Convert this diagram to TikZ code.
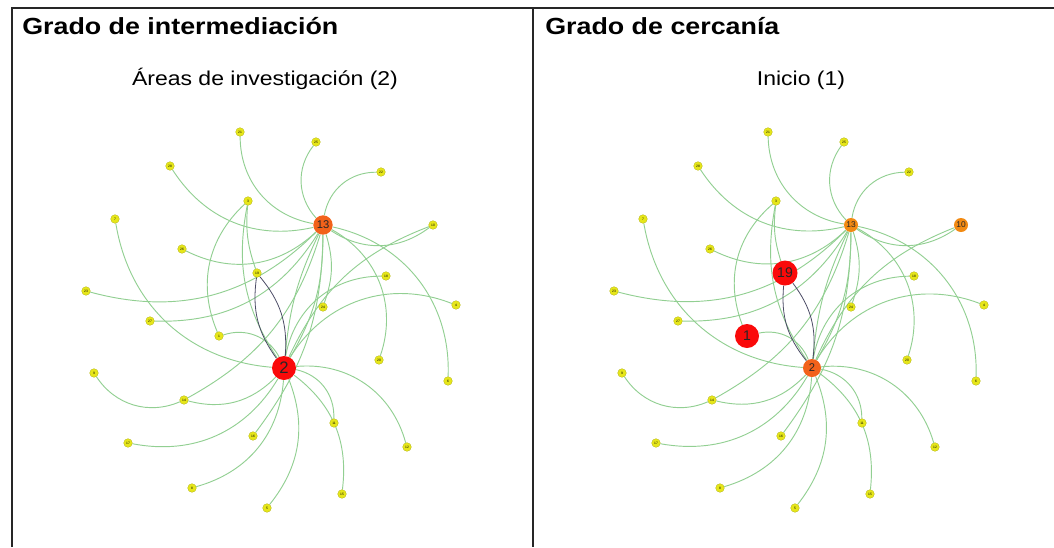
\documentclass[tikz,border=0pt]{standalone}
\usepackage{fontspec}
\setmainfont{Liberation Sans}
\usepackage{graphicx}
\pgfdeclarelayer{fondo}
\pgfsetlayers{fondo,main}
\definecolor{verde}{HTML}{92CF92}
\definecolor{gris}{HTML}{4C4C66}
\definecolor{amarillo}{HTML}{E6E619}
\definecolor{rojo}{HTML}{FA0A0A}
\definecolor{naranja}{HTML}{F28A12}
\definecolor{naranjarojo}{HTML}{F2621A}
\newcommand{\ancho}[1]{\scalebox{1.15}[1]{#1}}
\tikzset{marco/.style={line width=1.1pt, black!85},
  titulo/.style={anchor=base west, inner sep=0pt, font=\bfseries\fontsize{17.5}{20}\selectfont},
  subtitulo/.style={anchor=base, inner sep=0pt, font=\fontsize{15}{18}\selectfont},
  hoja/.style={circle, fill=amarillo, draw=amarillo!75!black, line width=0.2pt,
    inner sep=0pt, minimum size=6.5pt, font=\fontsize{2.5}{3}\selectfont},
  hub/.style={circle, inner sep=0pt, text=black!85},
  arista/.style={verde, line width=0.7pt},
  oscura/.style={gris, line width=0.6pt}}

\begin{document}
\begin{tikzpicture}[x=0.75pt,y=-0.75pt]
  % marco
  \useasboundingbox (0,0) rectangle (1054,547);
  \draw[marco] (12,547) -- (12,8) -- (1054,8);
  \draw[marco] (533,8) -- (533,547);

  % titulos
  \node[titulo] (tit1) at (22,34) {\ancho{Grado de intermediación}};
  \node[subtitulo] (sub1) at (265,85) {\ancho{Áreas de investigación (2)}};
  \node[titulo] (tit2) at (545,34) {\ancho{Grado de cercanía}};
  \node[subtitulo] (sub2) at (801,85) {\ancho{Inicio (1)}};

  % nodos principales
  \node[hub, fill=naranjarojo, minimum size=14.5pt, font=\fontsize{8.4}{9}\selectfont] (l13) at (323,225) {13};
  \node[hub, fill=rojo, minimum size=18pt, font=\fontsize{12.5}{13}\selectfont] (l2) at (284,368) {2};
  \node[hoja] (l19) at (257,273) {19};
  \node[hoja] (l1) at (219,336) {1};
  \node[hoja] (l10) at (433,225) {10};

  \node[hub, fill=naranja, minimum size=10.5pt, font=\fontsize{6.3}{7}\selectfont] (r13) at (851,225) {13};
  \node[hub, fill=naranja, minimum size=10.5pt, font=\fontsize{6.3}{7}\selectfont] (r10) at (961,225) {10};
  \node[hub, fill=naranjarojo, minimum size=13.5pt, font=\fontsize{8.4}{9}\selectfont] (r2) at (812,368) {2};
  \node[hub, fill=rojo, minimum size=18.75pt, font=\fontsize{10.5}{11}\selectfont] (r19) at (785,273) {19};
  \node[hub, fill=rojo, minimum size=18pt, font=\fontsize{10.5}{11}\selectfont] (r1) at (747,336) {1};

  % hojas
  \foreach \p/\dx in {l/0,r/528}
    \foreach \n/\x/\y in {21/240/132, 28/170/166, 3/248/201, 7/115/219, 26/182/249,
      23/86/291, 27/150/321, 25/316/142, 22/381/172, 18/386/276, 4/456/305,
      24/323/307, 9/94/373, 14/184/400, 17/128/443, 16/253/436, 8/192/488,
      5/267/508, 20/379/360, 6/448/381, 11/334/423, 12/407/447, 15/342/494}
      \node[hoja] (\p\n) at (\x+\dx,\y) {\n};

  % aristas
  \begin{pgfonlayer}{fondo}
  \foreach \p in {l,r}
  {
    \foreach \a/\b/\c in {21/13/40, 28/13/35, 3/1/35, 3/2/22, 3/19/12, 7/2/38,
      26/13/35, 23/13/30, 27/13/30, 1/2/-40, 9/14/40, 14/2/30, 14/13/22,
      17/2/35, 16/13/18, 8/2/35, 5/2/30, 25/13/40, 22/13/40, 10/13/-35,
      10/2/22, 18/2/40, 4/2/40, 24/13/18, 20/13/40, 6/13/40, 11/2/40,
      15/2/30, 12/2/40, 13/2/10, 13/2/-15}
      \draw[arista] (\p\a) to[bend right=\c] (\p\b);
    \draw[oscura] (\p19) to[bend right=22] (\p2);
    \draw[oscura] (\p19) to[bend left=22] (\p2);
  }
  \end{pgfonlayer}
\end{tikzpicture}
\end{document}
